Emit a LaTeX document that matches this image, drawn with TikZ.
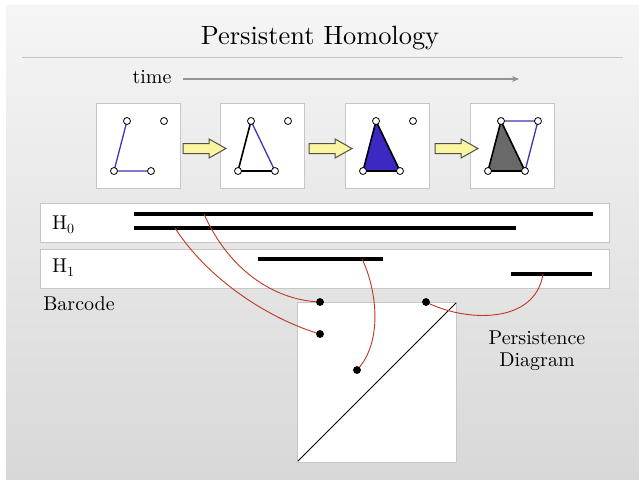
\documentclass[tikz,border=0pt]{standalone}
\usetikzlibrary{arrows.meta}
\definecolor{bgtop}{RGB}{245,245,245}
\definecolor{bgbot}{RGB}{216,216,216}
\definecolor{linkred}{RGB}{190,55,35}
\definecolor{edgeblue}{RGB}{70,50,185}
\definecolor{triblue}{RGB}{60,40,195}
\definecolor{trigray}{RGB}{105,105,105}
\definecolor{arrowfill}{RGB}{250,245,160}
\definecolor{arrowdraw}{RGB}{80,80,70}
\font\bodyfont="[lmroman10-regular]" at 20pt
\font\titlefont="[lmroman10-regular]" at 26.4pt
\font\subfont="[lmroman10-regular]" at 14pt
\begin{document}
\begin{tikzpicture}[x=1pt,y=-1pt,
  panel/.style={draw={rgb,255:red,198;green,198;blue,198}, fill=white, line width=0.9pt, inner sep=0pt, anchor=north west},
  vtx/.style={circle, draw=black, fill=white, inner sep=0pt, minimum size=7pt, line width=0.8pt},
  dotn/.style={circle, fill=black, inner sep=0pt, minimum size=7.5pt},
  bar/.style={line width=4pt},
  link/.style={draw=linkred, line width=0.9pt},
  bedge/.style={draw=edgeblue, line width=1.3pt},
  kedge/.style={draw=black, line width=1.6pt, line join=round},
  lbl/.style={inner sep=0pt, font={\bodyfont\baselineskip=22pt\relax}},
  yarrow/.style={fill=arrowfill, draw=arrowdraw, line width=1pt, line join=miter}
]
\useasboundingbox (0,0) rectangle (639,482);
\fill[top color=bgtop, bottom color=bgbot] (6,5) rectangle (639,479);

% title
\node[inner sep=0pt, font=\titlefont] (title) at (320,38) {Persistent Homology};
\coordinate (rl) at (22,57); \coordinate (rr) at (623,57);
\draw[draw=gray!45, line width=0.8pt] (rl) -- (rr);

% time arrow
\node[lbl] (time) at (152,77) {time};
\coordinate (ts) at (183,79); \coordinate (te) at (519,79);
\draw[draw=gray!85, line width=1.5pt, -{Stealth[length=7pt,width=6pt]}] (ts) -- (te);

% frames and vertices
\foreach \i/\x in {1/96,2/220,3/345,4/470}{
  \node[panel, minimum width=84pt, minimum height=85pt] (f\i) at (\x,103) {};
  \coordinate (t\i) at (\x+31,121);
  \coordinate (r\i) at (\x+68,121);
  \coordinate (bl\i) at (\x+18,171);
  \coordinate (br\i) at (\x+55,171);
}
% edges
\draw[bedge] (t1) -- (bl1) -- (br1);
\draw[kedge] (t2) -- (bl2) -- (br2);
\draw[bedge] (t2) -- (br2);
\filldraw[kedge, fill=triblue] (t3) -- (bl3) -- (br3) -- cycle;
\filldraw[kedge, fill=trigray] (t4) -- (bl4) -- (br4) -- cycle;
\draw[bedge] (t4) -- (r4) -- (br4);
\foreach \i in {1,2,3,4}{
  \node[vtx] (vt\i) at (t\i) {};
  \node[vtx] (vr\i) at (r\i) {};
  \node[vtx] (vbl\i) at (bl\i) {};
  \node[vtx] (vbr\i) at (br\i) {};
}
% yellow arrows
\foreach \x in {183,309,435}{
  \draw[yarrow] (\x,143.5) -- (\x+26,143.5) -- (\x+26,139) -- (\x+43,148.5) -- (\x+26,158) -- (\x+26,153.5) -- (\x,153.5) -- cycle;
}

% barcode panels
\node[panel, minimum width=569pt, minimum height=39pt] (h0) at (40,203) {};
\node[panel, minimum width=569pt, minimum height=39pt] (h1) at (40,249) {};
\node[lbl, anchor=west] (h0l) at (52,225) {H\raisebox{-4pt}{\subfont 0}};
\node[lbl, anchor=west] (h1l) at (52,268) {H\raisebox{-4pt}{\subfont 1}};
\coordinate (a1) at (134,214); \coordinate (a2) at (593,214);
\coordinate (b1) at (134,228); \coordinate (b2) at (516,228);
\coordinate (c1) at (258,259); \coordinate (c2) at (383,259);
\coordinate (d1) at (511,274); \coordinate (d2) at (592,274);
\draw[bar] (a1) -- (a2);
\draw[bar] (b1) -- (b2);
\draw[bar] (c1) -- (c2);
\draw[bar] (d1) -- (d2);
\node[lbl] (barcode) at (79,304) {Barcode};

% persistence diagram
\node[panel, minimum width=159pt, minimum height=160pt] (pd) at (297,302) {};
\coordinate (dg1) at (298,461); \coordinate (dg2) at (456,303);
\draw[line width=0.9pt] (dg1) -- (dg2);
\node[lbl, align=center] (pdl) at (537,351) {Persistence\\Diagram};

% links
\coordinate (la) at (204,214);
\coordinate (lb) at (175,228);
\coordinate (lc) at (362,259);
\coordinate (ld) at (543,274);
\node[dotn] (p1) at (320,302) {};
\node[dotn] (p2) at (320,334) {};
\node[dotn] (p3) at (357,370) {};
\node[dotn] (p4) at (426,302) {};
\draw[link] (la) .. controls (228,268) and (272,300) .. (p1.center);
\draw[link] (lb) .. controls (210,282) and (272,320) .. (p2.center);
\draw[link] (lc) .. controls (375,285) and (385,340) .. (p3.center);
\draw[link] (ld) .. controls (535,325) and (465,322) .. (p4.center);
\node[dotn] (q1) at (p1) {};
\node[dotn] (q2) at (p2) {};
\node[dotn] (q3) at (p3) {};
\node[dotn] (q4) at (p4) {};
\end{tikzpicture}
\end{document}
